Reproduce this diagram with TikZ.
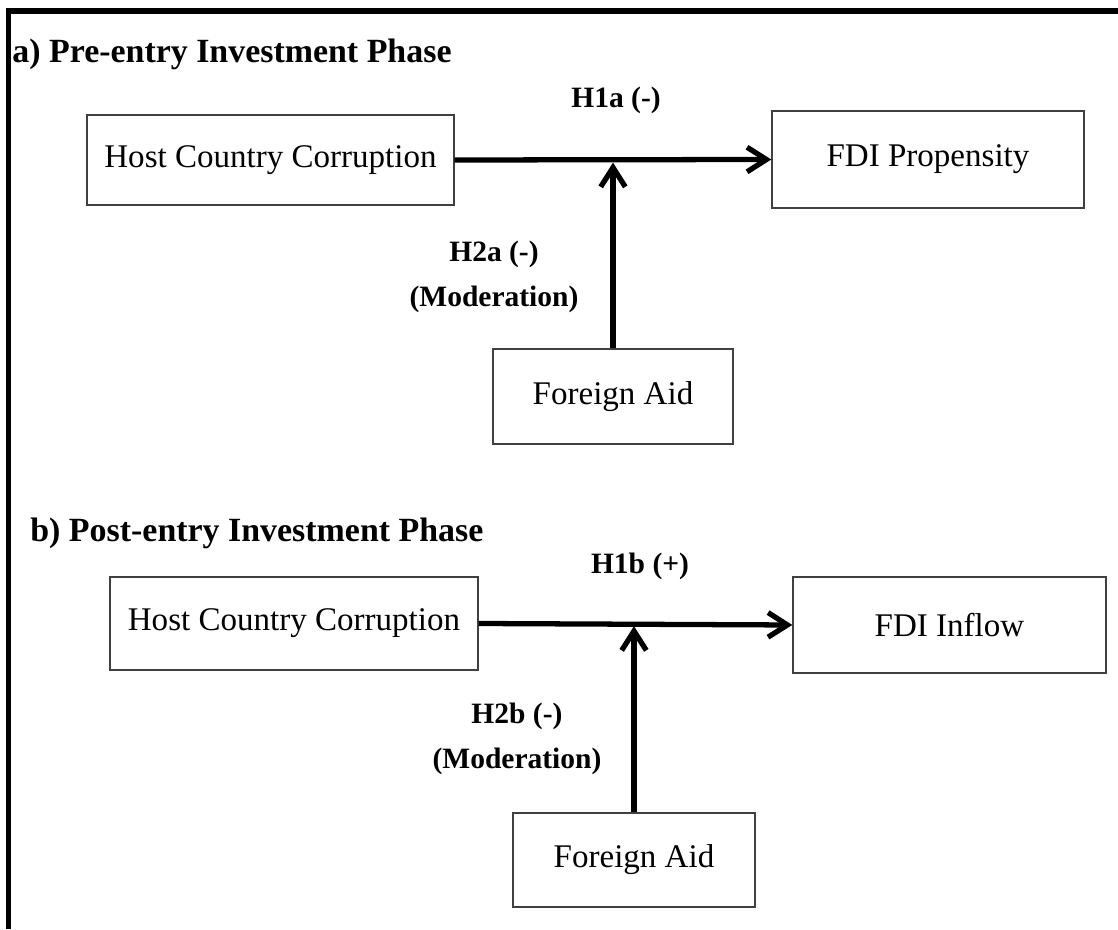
\documentclass[tikz,border=0pt]{standalone}
\usepackage{fontspec}
\setmainfont{Liberation Serif}
\usepackage{tikz}
\usetikzlibrary{arrows.meta}

\begin{document}
\begin{tikzpicture}[
	box/.style = {draw = black!75, line width = 0.8pt, inner sep = 0pt, minimum height = 1.88cm, font = \fontsize{18.8}{22}\selectfont},
	link/.style = {line width = 3pt, -{Straight Barb[length = 11pt, width = 14pt]}},
	hyp/.style = {align = center, inner sep = 0pt, font = \bfseries\fontsize{16.8}{25.5}\selectfont},
	phase/.style = {anchor = base west, inner sep = 0pt, font = \bfseries\fontsize{19.3}{23}\selectfont}
	]
	\useasboundingbox (0, 0) rectangle (22.36, 18.58);
	\draw[line width = 0.12cm] (0.17, 0) -- (0.17, 18.36) -- (22.36, 18.36);

	\node[phase] (phaseA) at (0.24, 17.32) {a) Pre-entry Investment Phase};
	\node[box, minimum width = 7.34cm, minimum height = 1.8cm] (corrA) at (5.41, 15.38) {Host Country Corruption};
	\node[box, minimum width = 6.24cm, minimum height = 1.94cm] (fdiA) at (18.56, 15.39) {FDI Propensity};
	\node[box, minimum width = 4.8cm, minimum height = 1.9cm] (aidA) at (12.26, 10.65) {Foreign Aid};
	\draw[link] (corrA.east) -- (fdiA.west);
	\draw[link, shorten > = 1.5pt] (aidA.north) -- (aidA.north |- corrA.east);
	\node[hyp] (h1a) at (12.32, 16.58) {H1a (-)};
	\node[hyp] (h2a) at (9.88, 13.04) {H2a (-)\\(Moderation)};

	\node[phase] (phaseB) at (0.6, 7.74) {b) Post-entry Investment Phase};
	\node[box, minimum width = 7.36cm, minimum height = 1.86cm] (corrB) at (5.88, 6.11) {Host Country Corruption};
	\node[box, minimum width = 6.26cm, minimum height = 1.92cm] (fdiB) at (18.99, 6.08) {FDI Inflow};
	\node[box, minimum width = 4.84cm] (aidB) at (12.68, 1.38) {Foreign Aid};
	\draw[link] (corrB.east) -- (fdiB.west);
	\draw[link, shorten > = 1.5pt] (aidB.north) -- (aidB.north |- corrB.east);
	\node[hyp] (h1b) at (12.8, 7.26) {H1b (+)};
	\node[hyp] (h2b) at (10.34, 3.8) {H2b (-)\\(Moderation)};
\end{tikzpicture}
\end{document}
